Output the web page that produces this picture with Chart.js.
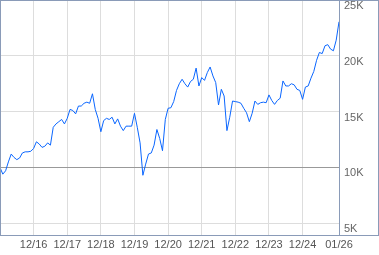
<!DOCTYPE html>
<html>
<head>
<meta charset="utf-8">
<script src="https://cdn.jsdelivr.net/npm/chart.js@4/dist/chart.umd.min.js"></script>
<style>
  body { margin: 0; background: #fff; }
</style>
</head>
<body>
<canvas id="growth" width="379" height="255"></canvas>
<script>
// growth of 10K, one value per month, 12/2015 .. 01/2026
const growth = [
  10000, 9400, 9700, 10500, 11200, 10900, 10700, 10850, 11300, 11400,
  11400, 11450, 11700, 12300, 12100, 11800, 11900, 12200, 12000, 13600,
  13900, 14100, 14300, 13900, 14400, 15200, 15100, 14800, 15500, 15500,
  15750, 15850, 15750, 16600, 15200, 14400, 13200, 14200, 14400, 14300,
  14500, 13900, 14350, 13700, 13300, 13700, 13700, 13700, 14850, 13600,
  12200, 9300, 10300, 11200, 11300, 12000, 13400, 12600, 11500, 14300,
  15300, 15350, 15900, 16900, 17500, 17900, 17500, 17200, 17700, 17900,
  18900, 17300, 18050, 17800, 18500, 19000, 18200, 17600, 15600, 17000,
  16400, 13300, 14500, 15950, 15900, 15850, 15750, 15300, 14900, 14100,
  14850, 15950, 15650, 15800, 15850, 15800, 16500, 16000, 15650, 16000,
  16200, 17750, 17300, 17300, 17500, 17400, 17000, 16900, 16100, 17200,
  17300, 18000, 18600, 19600, 20300, 20200, 20900, 21000, 20600, 20450,
  21400, 23050,
];
const monthIndex = growth.map((v, i) => i);

// x ticks, in months from 12/2015
const tickMonths = [12, 24, 36, 48, 60, 72, 84, 96, 108, 121];
const tickLabels = ["12/16", "12/17", "12/18", "12/19", "12/20", "12/21", "12/22", "12/23", "12/24", "01/26"];
const yTicks = [5000, 10000, 15000, 20000, 25000];

const frameColor = "#8a9bb8";

// outer box + divider between plot and value labels
const frame = {
  id: "frame",
  afterDraw(chart) {
    const c = chart.ctx;
    const a = chart.chartArea;
    c.save();
    c.strokeStyle = frameColor;
    c.lineWidth = 1;
    c.strokeRect(0.5, a.top + 0.5, chart.width - 1, a.bottom - a.top);
    c.beginPath();
    c.moveTo(a.right + 0.5, a.top);
    c.lineTo(a.right + 0.5, a.bottom);
    c.stroke();
    c.restore();
  },
};

const ctx = document.getElementById("growth");

new Chart(ctx, {
  type: "line",
  data: {
    labels: monthIndex,
    datasets: [
      {
        data: growth.map((v, i) => ({ x: monthIndex[i], y: v })),
        borderColor: "#0a66ff",
        borderWidth: 1,
        pointRadius: 0,
        tension: 0,
        fill: false,
      },
    ],
  },
  options: {
    responsive: false,
    animation: false,
    layout: { padding: 0 },
    scales: {
      x: {
        type: "linear",
        min: 0,
        max: 121,
        afterBuildTicks: (scale) => {
          scale.ticks = tickMonths.map((v) => ({ value: v }));
        },
        afterFit: (scale) => {
          scale.height = 20;
          scale.paddingLeft = 0;
          scale.paddingRight = 0;
        },
        grid: {
          color: "#dddddd",
          drawTicks: false,
        },
        border: { display: false },
        ticks: {
          autoSkip: false,
          maxRotation: 0,
          padding: 3,
          color: "#555",
          font: { family: "Liberation Sans, Arial", size: 11 },
          callback: (value, index) => tickLabels[index],
        },
      },
      y: {
        position: "right",
        min: 3950,
        max: 25000,
        afterBuildTicks: (scale) => {
          scale.ticks = yTicks.map((v) => ({ value: v }));
        },
        afterFit: (scale) => {
          scale.width = 40;
          scale.paddingTop = 0;
          scale.paddingBottom = 0;
        },
        grid: {
          color: (c) => (c.tick && c.tick.value === 10000 ? "#999999" : "#dddddd"),
          drawTicks: false,
        },
        border: { display: false },
        ticks: {
          padding: 5,
          labelOffset: 6,
          color: "#666",
          font: { family: "Liberation Sans, Arial", size: 11 },
          callback: (value) => value / 1000 + "K",
        },
      },
    },
    plugins: {
      legend: { display: false },
      tooltip: { enabled: false },
    },
  },
  plugins: [frame],
});
</script>
</body>
</html>
